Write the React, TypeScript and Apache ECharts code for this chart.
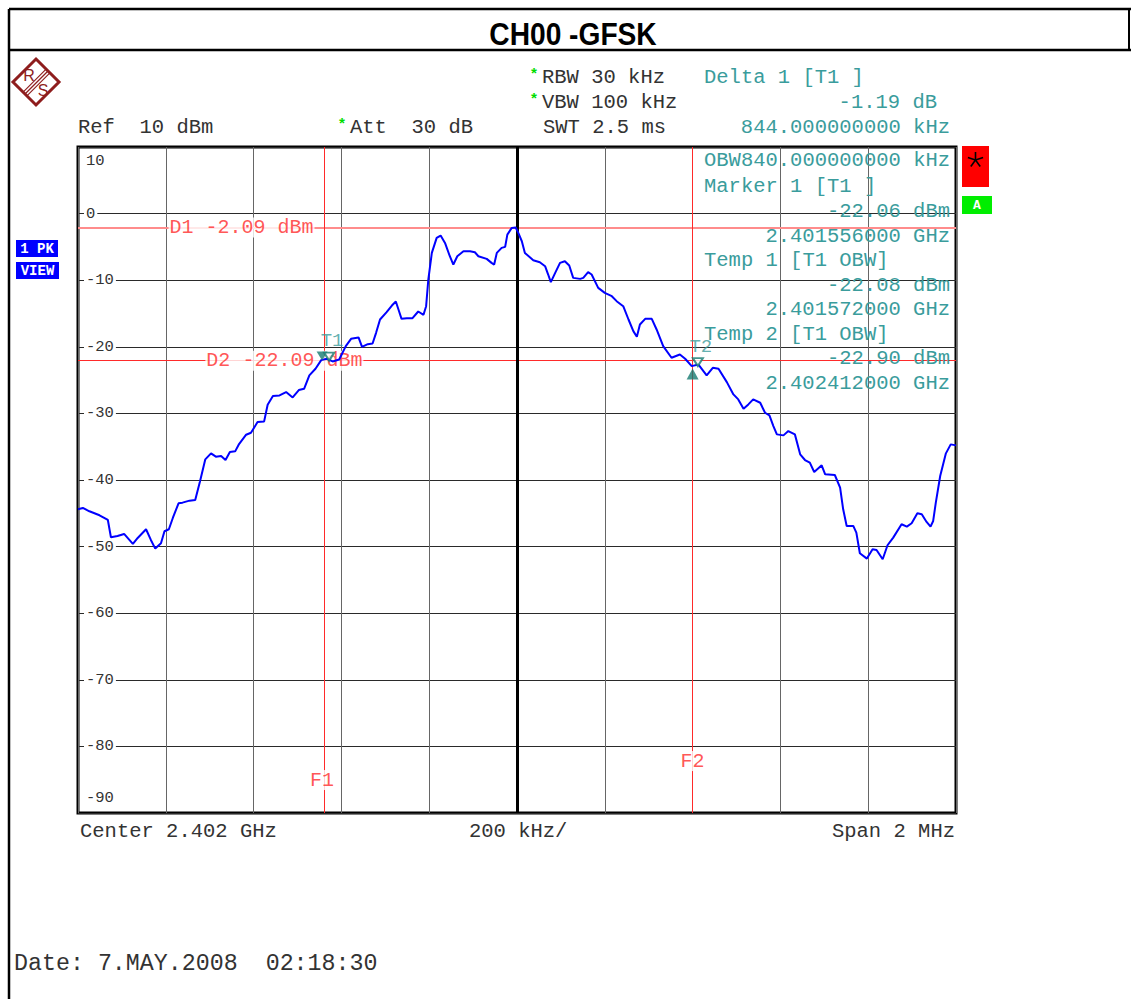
import React, { useEffect, useRef } from "react";
import * as echarts from "echarts";

// ---------- data ----------
const TITLE = "CH00 -GFSK";
const FREQ_MIN = 2401; // MHz
const FREQ_MAX = 2403;
const FREQ_STEP = 0.2;
const LEVEL_MIN = -90; // dBm
const LEVEL_MAX = 10;
const LEVEL_STEP = 10;
const CENTER_FREQ = 2402;

const traceFreq = [
  2401.0, 2401.011, 2401.026, 2401.049, 2401.068, 2401.075, 2401.09, 2401.105, 2401.125, 2401.136,
  2401.155, 2401.166, 2401.176, 2401.189, 2401.197, 2401.207, 2401.216, 2401.229, 2401.238, 2401.254,
  2401.267, 2401.278, 2401.29, 2401.303, 2401.314, 2401.326, 2401.336, 2401.346, 2401.358, 2401.366,
  2401.383, 2401.394, 2401.409, 2401.424, 2401.432, 2401.444, 2401.459, 2401.474, 2401.489, 2401.503,
  2401.515, 2401.527, 2401.541, 2401.554, 2401.567, 2401.58, 2401.595, 2401.61, 2401.622, 2401.639,
  2401.647, 2401.66, 2401.671, 2401.679, 2401.688, 2401.703, 2401.715, 2401.724, 2401.73, 2401.737,
  2401.749, 2401.762, 2401.775, 2401.787, 2401.793, 2401.798, 2401.806, 2401.817, 2401.826, 2401.836,
  2401.847, 2401.855, 2401.864, 2401.878, 2401.893, 2401.904, 2401.912, 2401.931, 2401.942, 2401.948,
  2401.954, 2401.965, 2401.973, 2401.978, 2401.988, 2401.997, 2402.003, 2402.011, 2402.018, 2402.037,
  2402.052, 2402.064, 2402.071, 2402.077, 2402.087, 2402.098, 2402.109, 2402.119, 2402.128, 2402.144,
  2402.151, 2402.162, 2402.17, 2402.185, 2402.2, 2402.216, 2402.227, 2402.242, 2402.254, 2402.265,
  2402.273, 2402.28, 2402.292, 2402.307, 2402.318, 2402.333, 2402.352, 2402.371, 2402.383, 2402.398,
  2402.413, 2402.432, 2402.446, 2402.459, 2402.478, 2402.493, 2402.504, 2402.516, 2402.527, 2402.538,
  2402.554, 2402.565, 2402.575, 2402.584, 2402.592, 2402.607, 2402.618, 2402.633, 2402.645, 2402.656,
  2402.667, 2402.677, 2402.694, 2402.702, 2402.724, 2402.736, 2402.743, 2402.751, 2402.766, 2402.773,
  2402.781, 2402.797, 2402.81, 2402.819, 2402.833, 2402.844, 2402.857, 2402.876, 2402.888, 2402.899,
  2402.912, 2402.922, 2402.933, 2402.942, 2402.948, 2402.954, 2402.964, 2402.977, 2402.988, 2403.0,
];

const traceLevel = [
  -44.4, -44.2, -44.7, -45.3, -46.0, -48.6, -48.4, -48.1, -49.6, -48.7,
  -47.4, -49.0, -50.3, -49.5, -47.7, -47.4, -45.7, -43.5, -43.4, -43.1,
  -43.0, -40.2, -36.9, -36.0, -36.5, -36.4, -37.0, -35.8, -35.7, -34.7,
  -33.2, -32.9, -31.3, -31.2, -28.7, -27.4, -27.3, -26.8, -27.6, -26.5,
  -26.3, -24.3, -23.3, -22.0, -21.8, -22.2, -21.9, -19.9, -18.8, -18.6,
  -20.0, -19.6, -19.5, -17.9, -15.9, -14.8, -13.8, -13.2, -14.4, -15.8,
  -15.7, -15.7, -14.7, -15.2, -13.9, -9.9, -5.9, -3.65, -3.3, -4.4,
  -6.4, -7.65, -6.4, -5.65, -5.65, -5.8, -6.4, -6.8, -7.4, -7.65,
  -5.9, -5.15, -5.0, -3.15, -2.15, -2.09, -2.9, -4.15, -5.9, -7.0,
  -7.3, -7.9, -9.15, -10.3, -8.9, -7.4, -7.15, -7.8, -9.65, -9.8,
  -9.65, -8.8, -9.15, -11.15, -11.9, -12.4, -13.15, -13.9, -15.9, -17.65,
  -18.5, -16.65, -15.8, -15.8, -17.4, -19.9, -21.65, -21.15, -21.8, -22.9,
  -22.65, -24.3, -23.15, -23.3, -25.3, -27.15, -27.9, -29.3, -28.65, -27.9,
  -28.4, -29.9, -30.3, -31.9, -33.15, -33.3, -32.65, -33.15, -36.15, -37.0,
  -37.4, -38.8, -37.8, -39.15, -39.25, -41.15, -44.4, -46.9, -46.9, -47.9,
  -51.0, -51.8, -50.4, -50.5, -51.9, -49.8, -48.65, -46.65, -47.0, -46.5,
  -45.0, -45.15, -46.3, -47.0, -46.15, -43.4, -39.4, -36.0, -34.65, -34.8,
];

// display lines / markers
const D1_LEVEL = -2.09;
const D2_LEVEL = -22.09;
const F1_FREQ = 2401.556;
const F2_FREQ = 2402.4;
const markerT1 = [2401.556, -22.06];
const temp1 = [2401.572, -22.08];
const temp2 = [2402.412, -22.9];
const delta1 = [2402.4, -23.25];
const DELTA_DB = -1.19;
const DELTA_KHZ = 844;
const OBW_KHZ = 840;

// ---------- styling ----------
const MONO = '"Liberation Mono", "DejaVu Sans Mono", monospace';
const TEAL = "#3a9c9c";
const MARK = "#167a70";
const INK = "#333";
const RED = "#ff2a2a";

const fmtGHz = (mhz: number) => (mhz / 1000).toFixed(9) + " GHz";
const fmtDbm = (v: number) => v.toFixed(2) + " dBm";

function txt(text: string, x: number, y: number, o: any = {}) {
  return {
    type: "text",
    x,
    y,
    z: 100,
    silent: true,
    scaleX: o.scaleX ?? 1,
    style: {
      text,
      fill: o.fill ?? INK,
      font: o.font ?? `20.5px ${MONO}`,
      align: o.align ?? "left",
      verticalAlign: "middle",
      textAlign: o.align ?? "left",
      textVerticalAlign: "middle",
    },
  };
}

function line(x1: number, y1: number, x2: number, y2: number, w: number, color = "#000") {
  return {
    type: "line",
    z: 100,
    silent: true,
    shape: { x1, y1, x2, y2 },
    style: { stroke: color, lineWidth: w },
  };
}

function starArms(cx: number, cy: number, r: number) {
  const arms: any[] = [];
  for (let i = 0; i < 5; i++) {
    const a = ((-90 + i * 72) * Math.PI) / 180;
    arms.push(line(cx, cy, cx + r * Math.cos(a), cy + r * Math.sin(a), 1.6, "#000"));
  }
  return arms;
}

function buildOption() {
  const LOGO = "#8e1d1d";
  const lk = [-1.9, 0, 1.9];
  const graphic: any[] = [
    // frame
    line(9, 9, 1131, 9, 2.5),
    line(9, 50, 1131, 50, 2.5),
    line(9, 9, 9, 999, 2.5),
    line(1129, 9, 1129, 50, 2),
    txt(TITLE, 573, 34, { font: `bold 32px "Liberation Sans", Arial, sans-serif`, align: "center", fill: "#000", scaleX: 0.88 }),
    // logo
    {
      type: "polygon",
      z: 100,
      silent: true,
      shape: { points: [[36, 59], [59, 82], [36, 105], [13, 82]] },
      style: { fill: "none", stroke: LOGO, lineWidth: 3 },
    },
    ...lk.map((k) => line(48 + k, 71 + k, 25 + k, 94 + k, 1.2, LOGO)),
    txt("R", 29, 75, { font: `16px "Liberation Sans", Arial`, align: "center", fill: LOGO }),
    txt("S", 43, 90, { font: `16px "Liberation Sans", Arial`, align: "center", fill: LOGO }),
    // header
    txt("Ref  10 dBm", 78, 127),
    txt("*", 342, 125, { font: `bold 15px ${MONO}`, fill: "#00dd00", align: "center" }),
    txt("Att  30 dB", 350, 127),
    txt("*", 534, 75, { font: `bold 15px ${MONO}`, fill: "#00dd00", align: "center" }),
    txt("RBW 30 kHz", 542, 77),
    txt("*", 534, 100, { font: `bold 15px ${MONO}`, fill: "#00dd00", align: "center" }),
    txt("VBW 100 kHz", 542, 102),
    txt("SWT 2.5 ms", 543, 127),
    txt("Delta 1 [T1 ]", 704, 77, { fill: TEAL }),
    txt(DELTA_DB.toFixed(2) + " dB", 937, 102, { fill: TEAL, align: "right" }),
    txt(DELTA_KHZ.toFixed(9) + " kHz", 950, 127, { fill: TEAL, align: "right" }),
    // marker panel
    txt("OBW" + OBW_KHZ.toFixed(9) + " kHz", 704, 160, { fill: TEAL }),
    txt("Marker 1 [T1 ]", 704, 186, { fill: TEAL }),
    txt(fmtDbm(markerT1[1]), 950, 211, { fill: TEAL, align: "right" }),
    txt(fmtGHz(markerT1[0]), 950, 236, { fill: TEAL, align: "right" }),
    txt("Temp 1 [T1 OBW]", 704, 260, { fill: TEAL }),
    txt(fmtDbm(temp1[1]), 950, 285, { fill: TEAL, align: "right" }),
    txt(fmtGHz(temp1[0]), 950, 309, { fill: TEAL, align: "right" }),
    txt("Temp 2 [T1 OBW]", 704, 334, { fill: TEAL }),
    txt(fmtDbm(temp2[1]), 950, 358, { fill: TEAL, align: "right" }),
    txt(fmtGHz(temp2[0]), 950, 383, { fill: TEAL, align: "right" }),
    // status boxes
    { type: "rect", z: 100, silent: true, shape: { x: 962, y: 146, width: 27, height: 41 }, style: { fill: "#ff0000" } },
    ...starArms(975.5, 160, 8),
    { type: "rect", z: 100, silent: true, shape: { x: 962, y: 196, width: 30, height: 18 }, style: { fill: "#00ee00" } },
    txt("A", 977, 205, { font: `bold 13px ${MONO}`, fill: "#fff", align: "center" }),
    { type: "rect", z: 100, silent: true, shape: { x: 16, y: 240, width: 42, height: 17 }, style: { fill: "#0000ff" } },
    txt("1 PK", 37, 248.5, { font: `bold 14px ${MONO}`, fill: "#fff", align: "center" }),
    { type: "rect", z: 100, silent: true, shape: { x: 16, y: 262, width: 43, height: 17 }, style: { fill: "#0000ff" } },
    txt("VIEW", 37.5, 270.5, { font: `bold 14px ${MONO}`, fill: "#fff", align: "center" }),
    // footer
    txt("Center 2.402 GHz", 80, 831),
    txt("200 kHz/", 469, 831),
    txt("Span 2 MHz", 955, 831, { align: "right" }),
    txt("Date: 7.MAY.2008  02:18:30", 14, 964, { font: `23.3px ${MONO}` }),
  ];

  const labelFont = { fontFamily: MONO, fontSize: 15.5, color: INK };
  const lineLabels = [
    { at: [2401.205, D1_LEVEL], text: "D1 " + D1_LEVEL.toFixed(2) + " dBm", pos: "right" },
    { at: [2401.289, D2_LEVEL], text: "D2 " + D2_LEVEL.toFixed(2) + " dBm", pos: "right" },
    { at: [F1_FREQ, -85.05], text: "F1", pos: "inside" },
    { at: [F2_FREQ, -82.2], text: "F2", pos: "inside" },
  ];

  const markerLabel = (text: string, dx: number) => ({
    show: true,
    formatter: text,
    position: "top",
    distance: 1,
    offset: [dx, 0],
    color: TEAL,
    fontFamily: MONO,
    fontSize: 19,
  });

  return {
    animation: false,
    backgroundColor: "#fff",
    grid: {
      left: 78,
      top: 147,
      width: 878,
      height: 666,
      show: true,
      borderColor: "#000",
      borderWidth: 3,
      backgroundColor: "transparent",
    },
    xAxis: {
      type: "value",
      min: FREQ_MIN,
      max: FREQ_MAX,
      interval: FREQ_STEP,
      axisLine: { show: false },
      axisTick: { show: false },
      axisLabel: { show: false },
      splitLine: { show: true, lineStyle: { color: "#666", width: 1 } },
    },
    yAxis: {
      type: "value",
      min: LEVEL_MIN,
      max: LEVEL_MAX,
      interval: LEVEL_STEP,
      axisLine: { show: false },
      axisTick: { show: false },
      splitLine: { show: true, lineStyle: { color: "#2a2a2a", width: 1 } },
      axisLabel: {
        show: true,
        inside: true,
        margin: 6,
        formatter: (v: number) =>
          v === LEVEL_MAX ? `{t|${v}}` : v === LEVEL_MIN ? `{b|${v}}` : `{n|${v}}`,
        rich: {
          n: { ...labelFont, backgroundColor: "#fff", padding: [1, 2] },
          t: { ...labelFont, padding: [28, 2, 0, 2] },
          b: { ...labelFont, padding: [0, 2, 30, 2] },
        },
      },
    },
    graphic,
    series: [
      {
        type: "line",
        name: "refs",
        data: [],
        z: 2,
        silent: true,
        markLine: {
          silent: true,
          symbol: "none",
          label: { show: false },
          data: [
            { yAxis: D1_LEVEL, lineStyle: { color: "#ff8c8c", width: 2, type: "solid" } },
            { yAxis: D2_LEVEL, lineStyle: { color: RED, width: 1, type: "solid" } },
            { xAxis: F1_FREQ, lineStyle: { color: RED, width: 1, type: "solid" } },
            { xAxis: F2_FREQ, lineStyle: { color: RED, width: 1, type: "solid" } },
            { xAxis: CENTER_FREQ, lineStyle: { color: "#000", width: 3, type: "solid" } },
          ],
        },
      },
      {
        type: "scatter",
        name: "lineLabels",
        z: 10,
        silent: true,
        symbolSize: 1,
        itemStyle: { color: "rgba(0,0,0,0)" },
        data: lineLabels.map((l) => ({
          value: l.at,
          label: {
            show: true,
            formatter: l.text,
            position: l.pos,
            distance: 0,
            color: RED,
            fontFamily: MONO,
            fontSize: 20,
            backgroundColor: "#fff",
            padding: [0, 1],
          },
        })),
      },
      {
        type: "line",
        name: "trace",
        z: 11,
        silent: true,
        symbol: "none",
        data: traceFreq.map((f, i) => [f, traceLevel[i]]),
        lineStyle: { color: "#0000ff", width: 2 },
      },
      {
        type: "scatter",
        name: "markers",
        z: 12,
        silent: true,
        data: [
          {
            value: markerT1,
            symbol: "triangle",
            symbolRotate: 180,
            symbolSize: [11, 9],
            symbolOffset: [0, -4.5],
            itemStyle: { color: MARK },
            label: markerLabel("T1", 10),
          },
          {
            value: temp1,
            symbol: "emptyTriangle",
            symbolRotate: 180,
            symbolSize: [10, 8],
            symbolOffset: [0, -4],
            itemStyle: { color: MARK, borderWidth: 1.5 },
          },
          {
            value: temp2,
            symbol: "emptyTriangle",
            symbolRotate: 180,
            symbolSize: [10, 8],
            symbolOffset: [0, -4],
            itemStyle: { color: MARK, borderWidth: 1.5 },
            label: markerLabel("T2", 3),
          },
          {
            value: delta1,
            symbol: "triangle",
            symbolSize: [12, 11],
            symbolOffset: [0, 5.5],
            itemStyle: { color: MARK },
          },
        ],
      },
    ],
  };
}

export default function App() {
  const ref = useRef<HTMLDivElement>(null);
  useEffect(() => {
    if (!ref.current) return;
    const chart = echarts.init(ref.current, null, { renderer: "svg" });
    chart.setOption(buildOption() as any);
    return () => chart.dispose();
  }, []);
  return (
    <div
      ref={ref}
      style={{ position: "fixed", left: 0, top: 0, width: 1131, height: 999, background: "#fff" }}
    />
  );
}
